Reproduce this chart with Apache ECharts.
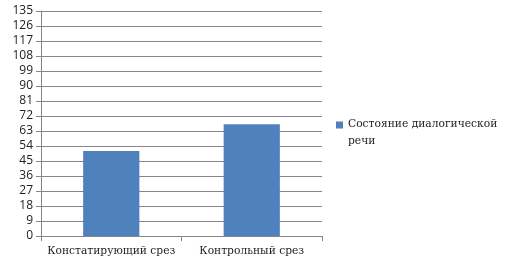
<!DOCTYPE html>
<html><head><meta charset="utf-8">
<script src="https://cdn.jsdelivr.net/npm/echarts@6/dist/echarts.min.js"></script>
<style>html,body{margin:0;padding:0;background:#fff}#c{width:508px;height:266px}</style>
</head><body><div id="c"></div>
<script>
var categories = ["Констатирующий срез", "Контрольный срез"];
var seriesName = "Состояние диалогической речи";
var values = [51, 67];
var yMin = 0, yMax = 135, yStep = 9;

var chart = echarts.init(document.getElementById('c'), null, {renderer: 'canvas'});
chart.setOption({
  animation: false,
  backgroundColor: '#fff',
  grid: {left: 41, right: 186, top: 11, bottom: 30, containLabel: false},
  legend: {
    left: 331, top: 111, itemWidth: 7, itemHeight: 23, itemGap: 0,
    icon: 'path://M0,0L7,0L7,7L0,7Z M0,23L7,23L0,23Z',
    data: [seriesName],
    formatter: function(){ return "Состояние диалогической\nречи"; },
    textStyle: {fontFamily: 'DejaVu Serif', fontSize: 10.7, color: '#222', lineHeight: 17}
  },
  xAxis: {
    type: 'category', data: categories,
    axisLine: {lineStyle: {color: '#868686'}},
    axisTick: {show: true, alignWithLabel: false, length: 5, lineStyle: {color: '#868686'}},
    axisLabel: {fontFamily: 'DejaVu Serif', fontSize: 10.7, color: '#222', margin: 10, interval: 0}
  },
  yAxis: {
    type: 'value', min: yMin, max: yMax, interval: yStep,
    axisLine: {show: true, lineStyle: {color: '#868686'}},
    axisTick: {show: true, length: 5, lineStyle: {color: '#868686'}},
    splitLine: {lineStyle: {color: '#868686', width: 1}},
    axisLabel: {fontFamily: 'Open Sans', fontSize: 12, color: '#222', margin: 8}
  },
  series: [{
    name: seriesName, type: 'bar', data: values, barWidth: '40%',
    itemStyle: {color: '#4F81BD'}
  }]
});
</script></body></html>
